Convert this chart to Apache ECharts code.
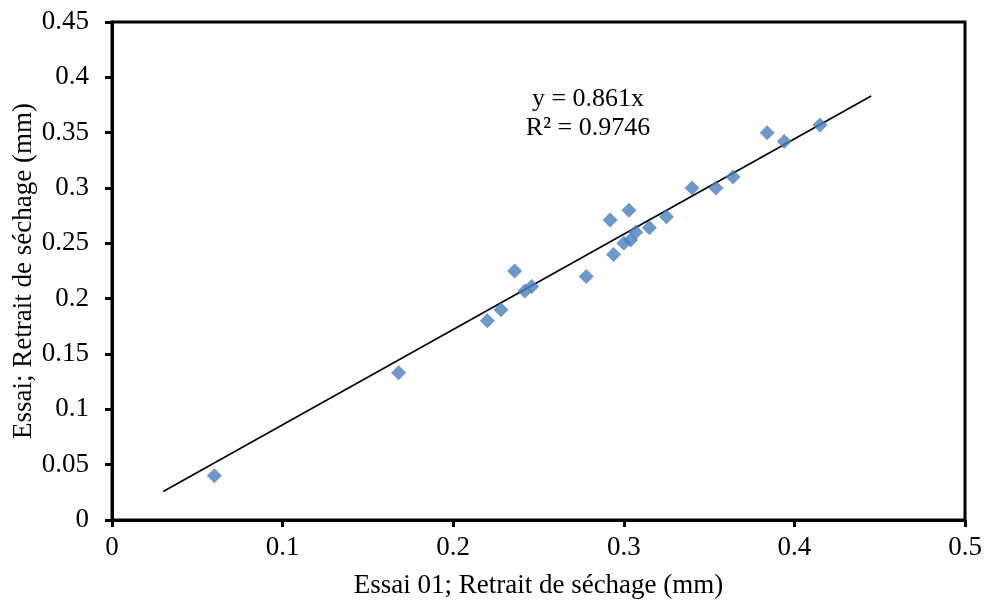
<!DOCTYPE html>
<html><head><meta charset="utf-8">
<script src="https://cdn.jsdelivr.net/npm/echarts@6/dist/echarts.min.js"></script>
<style>html,body{margin:0;padding:0;background:#fff}#c{width:989px;height:608px}</style>
</head><body><div id="c"></div>
<script>
const essai01 = [0.060,0.168,0.220,0.228,0.236,0.242,0.246,0.278,0.292,0.294,0.303,0.300,0.304,0.307,0.315,0.325,0.340,0.354,0.364,0.384,0.394,0.415];
const essai   = [0.040,0.133,0.180,0.190,0.225,0.207,0.211,0.220,0.271,0.240,0.280,0.250,0.253,0.260,0.264,0.274,0.300,0.300,0.310,0.350,0.342,0.357];
const slope = 0.861;
const trendX = [0.03, 0.445];
const xTicks = [0,0.1,0.2,0.3,0.4,0.5];
const yTicks = [0,0.05,0.1,0.15,0.2,0.25,0.3,0.35,0.4,0.45];
const eqText = ['y = 0.861x','R² = 0.9746'];

const pts = essai01.map((x,i)=>[x,essai[i]]);
const trend = trendX.map(x=>[x, +(slope*x).toFixed(4)]);
const font = '"Liberation Serif","Times New Roman",serif';
const fmt = v => String(+v.toFixed(2));
const chart = echarts.init(document.getElementById('c'));
chart.setOption({
  animation:false,
  backgroundColor:'#fff',
  grid:{left:112,right:24,top:22,bottom:88,containLabel:false,outerBoundsMode:'none',show:true,borderColor:'#000',borderWidth:3},
  xAxis:{type:'value',min:xTicks[0],max:xTicks[xTicks.length-1],interval:0.1,
    name:'Essai 01; Retrait de séchage (mm)',nameLocation:'middle',nameGap:52,nameMoveOverlap:false,
    nameTextStyle:{fontFamily:font,fontSize:27,color:'#000'},
    axisLine:{show:true,lineStyle:{color:'#000',width:3}},
    axisTick:{show:true,length:7,lineStyle:{color:'#000',width:3}},
    axisLabel:{fontFamily:font,fontSize:27,color:'#000',margin:14,formatter:fmt},
    splitLine:{show:false}},
  yAxis:{type:'value',min:yTicks[0],max:yTicks[yTicks.length-1],interval:0.05,
    name:'Essai; Retrait de séchage (mm)',nameLocation:'middle',nameGap:75,nameMoveOverlap:false,
    nameTextStyle:{fontFamily:font,fontSize:27,color:'#000'},
    axisLine:{show:true,lineStyle:{color:'#000',width:3}},
    axisTick:{show:true,length:7,lineStyle:{color:'#000',width:3}},
    axisLabel:{fontFamily:font,fontSize:27,color:'#000',margin:23,formatter:fmt},
    splitLine:{show:false}},
  series:[
    {type:'line',data:trend,symbol:'none',lineStyle:{color:'#000',width:1.6},z:2,silent:true},
    {type:'scatter',data:pts,symbol:'diamond',symbolSize:15,itemStyle:{color:'#4A7EBB'},z:3}
  ],
  graphic:[{type:'text',x:588,y:85,style:{text:eqText.join('\n'),fontFamily:font,fontSize:26,fill:'#000',align:'center',lineHeight:29}}]
});
</script></body></html>
